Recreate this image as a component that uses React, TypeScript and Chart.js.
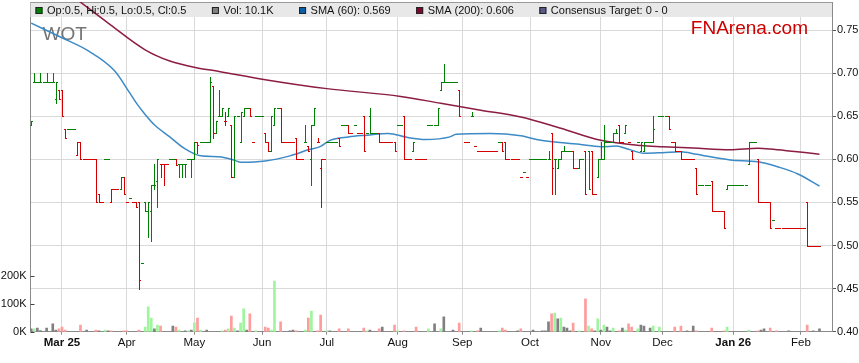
import React, { useEffect, useRef } from "react";
import { Chart, registerables } from "chart.js";

Chart.register(...registerables);

const FONT = '"Liberation Sans", Arial, Helvetica, sans-serif';

// x values are weekday indexes: day 0 = Mon 17 Feb 2025
const monthTickDays = [10, 31, 53, 75, 96, 119, 140, 162, 185, 205, 228, 250];
const monthTickLabels = ["Mar 25", "Apr", "May", "Jun", "Jul", "Aug", "Sep", "Oct", "Nov", "Dec", "Jan 26", "Feb"];
const yearTickLabels = ["Mar 25", "Jan 26"];
const priceTicks = [0.4, 0.45, 0.5, 0.55, 0.6, 0.65, 0.7, 0.75];
const volumeTicks = [0, 100000, 200000];

// [day, open, high, low, close]  or  [day, price] for a day traded at one price
const ohlcRows: number[][] = [
  [0, 0.64, 0.645, 0.64, 0.645], [1, 0.69, 0.70, 0.69, 0.69], [2, 0.69], [3, 0.69, 0.70, 0.69, 0.69], [4, 0.69],
  [5, 0.69, 0.70, 0.69, 0.69], [6, 0.69], [7, 0.69, 0.70, 0.69, 0.69], [8, 0.67, 0.69, 0.665, 0.69],
  [9, 0.68, 0.68, 0.67, 0.67], [10, 0.68, 0.68, 0.65, 0.65], [11, 0.635, 0.635, 0.625, 0.625],
  [12, 0.635], [13, 0.635], [14, 0.635], [15, 0.605, 0.62, 0.605, 0.62], [16, 0.62, 0.62, 0.60, 0.60],
  [17, 0.60], [18, 0.60], [19, 0.60], [20, 0.60], [21, 0.60, 0.60, 0.55, 0.55], [22, 0.56, 0.56, 0.55, 0.55],
  [23, 0.55], [24, 0.60], [25, 0.60], [26, 0.55, 0.565, 0.55, 0.565], [27, 0.565], [28, 0.565],
  [29, 0.565, 0.58, 0.565, 0.58], [30, 0.58, 0.58, 0.56, 0.56], [31, 0.55], [32, 0.555], [33, 0.55],
  [34, 0.55, 0.55, 0.545, 0.545], [35, 0.55, 0.55, 0.45, 0.46], [36, 0.48], [37, 0.55, 0.55, 0.54, 0.54],
  [38, 0.54, 0.55, 0.51, 0.55], [39, 0.54, 0.57, 0.505, 0.57], [40, 0.57, 0.595, 0.565, 0.57],
  [41, 0.575, 0.60, 0.545, 0.60], [42, 0.595, 0.595, 0.58, 0.595], [43, 0.595, 0.595, 0.57, 0.595],
  [44, 0.595], [45, 0.60], [46, 0.60], [47, 0.60, 0.60, 0.593, 0.593], [48, 0.595, 0.595, 0.58, 0.595],
  [49, 0.595, 0.595, 0.58, 0.595], [50, 0.595, 0.595, 0.58, 0.595], [51, 0.60], [52, 0.60, 0.60, 0.58, 0.60],
  [53, 0.60, 0.62, 0.60, 0.62], [54, 0.62, 0.62, 0.607, 0.617], [55, 0.62], [56, 0.62], [57, 0.62],
  [58, 0.62, 0.695, 0.62, 0.69], [59, 0.685, 0.685, 0.625, 0.63], [60, 0.63, 0.645, 0.63, 0.645],
  [61, 0.65, 0.68, 0.65, 0.65], [62, 0.65, 0.66, 0.65, 0.66], [63, 0.645, 0.655, 0.64, 0.645],
  [64, 0.65, 0.66, 0.65, 0.66], [65, 0.64, 0.64, 0.58, 0.58], [66, 0.58, 0.65, 0.58, 0.65], [67, 0.65],
  [68, 0.62, 0.655, 0.62, 0.655], [69, 0.65, 0.66, 0.65, 0.66], [70, 0.66], [71, 0.66, 0.66, 0.65, 0.65],
  [72, 0.62], [73, 0.65], [74, 0.65], [75, 0.65], [76, 0.63, 0.63, 0.62, 0.62], [77, 0.62, 0.62, 0.61, 0.61],
  [78, 0.61, 0.65, 0.61, 0.65], [79, 0.64, 0.66, 0.64, 0.66], [80, 0.66], [81, 0.66, 0.66, 0.62, 0.62],
  [82, 0.62], [83, 0.62], [84, 0.62], [85, 0.62], [86, 0.625, 0.625, 0.60, 0.60], [87, 0.60], [88, 0.60],
  [89, 0.62, 0.64, 0.62, 0.62], [90, 0.615, 0.615, 0.61, 0.61], [91, 0.60, 0.64, 0.57, 0.64],
  [92, 0.64, 0.66, 0.64, 0.66], [93, 0.62, 0.625, 0.62, 0.62], [94, 0.59, 0.60, 0.545, 0.60], [95, 0.60],
  [96, 0.62], [97, 0.62], [98, 0.62], [99, 0.62], [100, 0.625, 0.625, 0.615, 0.615], [101, 0.64], [102, 0.64],
  [103, 0.64, 0.64, 0.63, 0.63], [104, 0.63], [105, 0.64], [106, 0.63], [107, 0.63],
  [108, 0.65, 0.65, 0.61, 0.61], [109, 0.63], [110, 0.65, 0.66, 0.63, 0.63], [111, 0.63], [112, 0.63],
  [113, 0.63, 0.63, 0.62, 0.62], [114, 0.62], [115, 0.62], [116, 0.62], [117, 0.62],
  [118, 0.62, 0.62, 0.61, 0.61], [119, 0.64], [120, 0.64], [121, 0.65, 0.65, 0.60, 0.60], [122, 0.60],
  [123, 0.60], [124, 0.61, 0.62, 0.61, 0.62], [125, 0.60], [126, 0.60], [127, 0.60], [128, 0.60],
  [129, 0.64], [130, 0.64], [131, 0.64], [132, 0.64, 0.66, 0.64, 0.66], [133, 0.68, 0.69, 0.68, 0.69],
  [134, 0.69, 0.71, 0.69, 0.69], [135, 0.69], [136, 0.69], [137, 0.69], [138, 0.69],
  [139, 0.68, 0.68, 0.65, 0.65], [141, 0.62], [142, 0.62], [143, 0.65, 0.655, 0.65, 0.65], [144, 0.615],
  [145, 0.61], [146, 0.61], [147, 0.61], [148, 0.61], [149, 0.61], [150, 0.61], [151, 0.61], [152, 0.62],
  [153, 0.62, 0.62, 0.61, 0.61], [154, 0.62, 0.62, 0.60, 0.60], [155, 0.60], [156, 0.60], [157, 0.60],
  [158, 0.60], [159, 0.58], [160, 0.585], [161, 0.58], [162, 0.60], [163, 0.60], [164, 0.60], [165, 0.60],
  [166, 0.60], [167, 0.60], [168, 0.60, 0.61, 0.60, 0.60], [169, 0.63, 0.63, 0.56, 0.59],
  [170, 0.60, 0.60, 0.56, 0.60], [171, 0.59, 0.60, 0.59, 0.60], [172, 0.60, 0.61, 0.60, 0.61],
  [173, 0.61, 0.615, 0.61, 0.61], [174, 0.61], [175, 0.61], [176, 0.61, 0.61, 0.59, 0.59], [177, 0.59],
  [178, 0.59, 0.60, 0.59, 0.60], [179, 0.60], [180, 0.61, 0.61, 0.56, 0.56], [181, 0.61, 0.61, 0.565, 0.565],
  [182, 0.61, 0.61, 0.56, 0.56], [183, 0.56], [184, 0.58, 0.60, 0.58, 0.60], [185, 0.60, 0.62, 0.60, 0.60],
  [186, 0.60, 0.64, 0.60, 0.62], [187, 0.62], [188, 0.62], [189, 0.62, 0.63, 0.62, 0.63],
  [190, 0.63, 0.635, 0.63, 0.63], [191, 0.64, 0.64, 0.62, 0.62], [192, 0.62], [193, 0.63, 0.64, 0.63, 0.64],
  [194, 0.62], [195, 0.61, 0.61, 0.60, 0.60], [197, 0.62], [198, 0.61, 0.62, 0.61, 0.62],
  [199, 0.61, 0.62, 0.61, 0.62], [200, 0.62], [201, 0.62], [202, 0.62, 0.65, 0.62, 0.635], [204, 0.65],
  [205, 0.65], [206, 0.65], [207, 0.65, 0.65, 0.635, 0.635], [208, 0.62], [209, 0.62, 0.62, 0.61, 0.61],
  [210, 0.61], [211, 0.61, 0.61, 0.60, 0.60], [212, 0.60], [213, 0.60], [214, 0.60], [215, 0.60],
  [216, 0.59, 0.59, 0.56, 0.56], [217, 0.57], [218, 0.57], [219, 0.57], [220, 0.57],
  [221, 0.575, 0.575, 0.54, 0.54], [222, 0.54], [223, 0.54], [224, 0.54], [225, 0.54, 0.54, 0.52, 0.52],
  [226, 0.565, 0.57, 0.565, 0.57], [227, 0.57], [228, 0.57], [229, 0.57], [230, 0.57], [231, 0.57],
  [232, 0.57], [233, 0.595, 0.62, 0.595, 0.62], [234, 0.62], [235, 0.62], [236, 0.60, 0.60, 0.55, 0.55],
  [237, 0.55], [238, 0.55], [239, 0.55], [240, 0.55, 0.55, 0.52, 0.52], [241, 0.53], [242, 0.52],
  [243, 0.52], [244, 0.52], [245, 0.52], [246, 0.52], [247, 0.52], [248, 0.52], [249, 0.52], [250, 0.52],
  [251, 0.52], [252, 0.55, 0.55, 0.50, 0.50], [253, 0.50], [254, 0.50], [255, 0.50], [256, 0.50],
];

// [day, volume in thousands]
const volumeRows: number[][] = [
  [0, 10], [1, 10], [2, 13], [3, 4], [5, 13], [7, 28], [8, 6], [9, 10], [10, 17], [11, 6], [16, 24], [18, 6],
  [21, 6], [22, 3], [24, 6], [25, 3], [26, 3], [30, 3], [31, 3], [35, 6], [37, 17], [38, 89], [39, 49],
  [40, 10], [41, 24], [42, 20], [46, 20], [47, 17], [48, 6], [50, 3], [51, 3], [52, 6], [53, 32], [54, 49],
  [55, 6], [57, 6], [62, 3], [63, 6], [64, 10], [65, 56], [66, 13], [67, 3], [68, 31], [69, 82], [70, 6],
  [71, 64], [73, 3], [76, 17], [77, 13], [78, 6], [79, 182], [81, 35], [84, 3], [85, 6], [86, 3], [89, 6],
  [90, 49], [91, 74], [93, 3], [94, 60], [96, 3], [97, 3], [100, 10], [103, 10], [108, 13], [109, 3],
  [110, 6], [113, 10], [114, 17], [118, 24], [119, 3], [121, 3], [125, 17], [129, 10], [131, 28], [133, 10],
  [134, 53], [137, 6], [139, 31], [143, 3], [145, 3], [146, 13], [152, 3], [153, 13], [154, 6], [158, 3],
  [159, 10], [163, 6], [166, 3], [167, 3], [168, 35], [169, 64], [170, 67], [171, 46], [172, 49], [173, 17],
  [174, 13], [175, 3], [176, 31], [178, 3], [180, 118], [181, 20], [182, 10], [183, 3], [184, 46], [185, 6],
  [186, 24], [187, 17], [188, 3], [189, 13], [191, 3], [192, 13], [193, 6], [194, 28], [195, 17], [197, 10],
  [198, 24], [199, 20], [201, 13], [202, 20], [204, 17], [209, 17], [211, 20], [213, 3], [215, 20], [216, 3],
  [221, 13], [225, 3], [226, 17], [233, 6], [236, 3], [237, 6], [238, 10], [240, 13], [242, 3], [246, 3],
  [252, 24], [254, 3], [256, 10],
];

// [day, value]
const sma60Points: number[][] = [
  [0, 0.758], [10, 0.741], [18, 0.727], [27, 0.703], [32, 0.677], [34, 0.666], [37, 0.652], [40, 0.64],
  [45, 0.626], [50, 0.612], [55, 0.604], [61, 0.603], [66, 0.599], [68, 0.5965], [76, 0.598], [84, 0.604],
  [90, 0.611], [94, 0.615], [97, 0.622], [103, 0.626], [109, 0.628], [116, 0.63], [122, 0.6255],
  [128, 0.623], [136, 0.626], [138, 0.629], [149, 0.63], [159, 0.6274], [165, 0.6224], [178, 0.6174],
  [185, 0.6146], [190, 0.6154], [194, 0.6116], [199, 0.607], [205, 0.6077], [211, 0.6088], [216, 0.6058],
  [227, 0.5992], [236, 0.5972], [243, 0.5907], [249, 0.583], [256, 0.569],
];
const sma200Points: number[][] = [
  [0, 0.824], [15, 0.785], [25, 0.758], [37, 0.727], [45, 0.714], [54, 0.706], [61, 0.702], [75, 0.693],
  [96, 0.682], [120, 0.673], [133, 0.665], [146, 0.657], [159, 0.649], [172, 0.636], [185, 0.622],
  [198, 0.616], [205, 0.6146], [215, 0.613], [227, 0.611], [236, 0.6128], [240, 0.612], [248, 0.609],
  [256, 0.606],
];

const legendEntries = [
  { text: "Op:0.5, Hi:0.5, Lo:0.5, Cl:0.5", color: "#008000" },
  { text: "Vol: 10.1K", color: "#808080" },
  { text: "SMA (60): 0.569", color: "#0a5fa8" },
  { text: "SMA (200): 0.606", color: "#7d0a2e" },
  { text: "Consensus Target: 0 - 0", color: "#5a5a86" },
];
const tickerLabel = "WOT";
const brandLabel = "FNArena.com";

const UP = "#008000";
const DOWN = "#d40000";
const VOL_UP = "#9ef59e";
const VOL_DOWN = "#ff9c9c";
const VOL_FLAT = "#808080";
const BLUE = "#3c8ac6";
const MAROON = "#8c1c44";

type Bar = { day: number; o: number; h: number; l: number; c: number; up: boolean; move: number };

function buildBars(): Bar[] {
  const bars: Bar[] = [];
  let prevClose: number | null = null;
  let prevUp = true;
  for (const r of ohlcRows) {
    const [day, o, h = o, l = o, c = o] = r;
    let up = prevUp;
    let move = 0;
    if (prevClose === null) {
      up = c >= o;
    } else if (c > prevClose + 1e-9) {
      up = true;
      move = 1;
    } else if (c < prevClose - 1e-9) {
      up = false;
      move = -1;
    }
    bars.push({ day, o, h, l, c, up, move });
    prevClose = c;
    prevUp = up;
  }
  return bars;
}

const noPad = (s: any) => {
  s.paddingTop = 0;
  s.paddingBottom = 0;
  s.paddingLeft = 0;
  s.paddingRight = 0;
};

export default function App() {
  const ref = useRef<HTMLCanvasElement | null>(null);

  useEffect(() => {
    document.body.style.margin = "0";
    const canvas = ref.current;
    if (!canvas) return;
    const bars = buildBars();
    const moveByDay = new Map<number, number>();
    bars.forEach((b) => moveByDay.set(b.day, b.move));

    const volData = volumeRows.map(([d, v]) => ({ x: d, y: v * 1000 }));
    const volColors = volumeRows.map(([d]) => {
      const m = moveByDay.get(d) ?? 0;
      return m > 0 ? VOL_UP : m < 0 ? VOL_DOWN : VOL_FLAT;
    });

    const framePlugin = {
      id: "frame",
      beforeDatasetsDraw(chart: any) {
        const { ctx, chartArea } = chart;
        const { left, right, top } = chartArea;
        ctx.save();
        ctx.fillStyle = "#e8e8e8";
        ctx.fillRect(left, top, right - left, 15);
        ctx.strokeStyle = "#9a9a9a";
        ctx.lineWidth = 1;
        ctx.beginPath();
        ctx.moveTo(left, Math.round(top) + 0.5);
        ctx.lineTo(right, Math.round(top) + 0.5);
        ctx.stroke();
        ctx.font = `19px ${FONT}`;
        ctx.textBaseline = "alphabetic";
        ctx.fillStyle = "#757575";
        ctx.textAlign = "left";
        ctx.fillText(tickerLabel, left + 12, 39.5);
        ctx.fillStyle = "#cc0000";
        ctx.textAlign = "right";
        ctx.fillText(brandLabel, 808, 33.5);
        ctx.restore();
      },
      afterDatasetsDraw(chart: any) {
        const { ctx, chartArea, scales } = chart;
        const xs = scales.x;
        const ys = scales.yPrice;
        ctx.save();
        ctx.beginPath();
        ctx.rect(chartArea.left, chartArea.top, chartArea.right - chartArea.left, chartArea.bottom - chartArea.top);
        ctx.clip();
        ctx.lineWidth = 1;
        const py = (v: number) => Math.round(ys.getPixelForValue(v)) + 0.5;
        for (const b of bars) {
          const x = Math.round(xs.getPixelForValue(b.day)) + 0.5;
          const yo = py(b.o), yh = py(b.h), yl = py(b.l), yc = py(b.c);
          ctx.strokeStyle = b.up ? UP : DOWN;
          ctx.beginPath();
          if (yl > yh) {
            ctx.moveTo(x, yh - 0.5);
            ctx.lineTo(x, yl + 0.5);
          }
          ctx.moveTo(x - 1.5, yo);
          ctx.lineTo(x + 0.5, yo);
          ctx.moveTo(x - 0.5, yc);
          ctx.lineTo(x + 1.5, yc);
          ctx.stroke();
        }
        ctx.restore();

        // legend row
        ctx.save();
        ctx.font = `11px ${FONT}`;
        ctx.textBaseline = "middle";
        ctx.textAlign = "left";
        let lx = chartArea.left + 5;
        const ly = chartArea.top + 8.5;
        for (const e of legendEntries) {
          ctx.fillStyle = e.color;
          ctx.fillRect(lx, ly - 3.5, 7, 7);
          ctx.strokeStyle = "#222";
          ctx.lineWidth = 1;
          ctx.strokeRect(lx + 0.5, ly - 3, 6, 6);
          ctx.fillStyle = "#111";
          ctx.fillText(e.text, lx + 11.5, ly + 0.5);
          lx += 11.5 + ctx.measureText(e.text).width + 25.5;
        }
        ctx.restore();
      },
      afterDraw(chart: any) {
        const { ctx, scales } = chart;
        const yv = scales.yVol;
        ctx.save();
        ctx.strokeStyle = "#444";
        ctx.lineWidth = 1;
        ctx.beginPath();
        for (const v of volumeTicks) {
          const y = Math.round(yv.getPixelForValue(v)) + 0.5;
          ctx.moveTo(yv.right, y);
          ctx.lineTo(yv.right + 4, y);
        }
        ctx.stroke();
        ctx.restore();
      },
    };

    const chart = new Chart(canvas, {
      type: "bar",
      data: {
        datasets: [
          {
            type: "line",
            label: "SMA (200)",
            data: sma200Points.map(([x, y]) => ({ x, y })),
            yAxisID: "yPrice",
            borderColor: MAROON,
            borderWidth: 1.5,
            pointRadius: 0,
            cubicInterpolationMode: "monotone",
            order: 1,
          } as any,
          {
            type: "line",
            label: "SMA (60)",
            data: sma60Points.map(([x, y]) => ({ x, y })),
            yAxisID: "yPrice",
            borderColor: BLUE,
            borderWidth: 1.5,
            pointRadius: 0,
            cubicInterpolationMode: "monotone",
            order: 2,
          } as any,
          {
            type: "bar",
            label: "Vol",
            data: volData,
            yAxisID: "yVol",
            backgroundColor: volColors,
            barThickness: 2,
            order: 3,
          } as any,
        ],
      },
      options: {
        animation: false,
        responsive: false,
        maintainAspectRatio: false,
        layout: { padding: { top: 2, left: 0, right: 0, bottom: 0 } },
        plugins: { legend: { display: false }, tooltip: { enabled: false } },
        scales: {
          x: {
            type: "linear",
            min: -0.23,
            max: 260.07,
            offset: false,
            afterBuildTicks: (s: any) => {
              s.ticks = monthTickDays.map((v) => ({ value: v }));
            },
            afterFit: (s: any) => {
              s.height = 31.3;
              noPad(s);
            },
            ticks: {
              autoSkip: false,
              maxRotation: 0,
              minRotation: 0,
              padding: 1,
              color: "#111",
              callback: (v: any) => {
                const i = monthTickDays.indexOf(Number(v));
                return i >= 0 ? monthTickLabels[i] : "";
              },
              font: (ctx: any) => {
                const i = monthTickDays.indexOf(ctx.tick ? ctx.tick.value : -1);
                const bold = i >= 0 && yearTickLabels.includes(monthTickLabels[i]);
                return { family: FONT, size: 11.5, weight: bold ? "bold" : "normal" };
              },
            },
            grid: { color: "#d9d9d9", offset: false, tickLength: 3, tickColor: "#888" },
            border: { color: "#8a8a8a" },
          },
          yPrice: {
            type: "linear",
            position: "right",
            min: 0.4,
            max: 0.7825,
            afterBuildTicks: (s: any) => {
              s.ticks = priceTicks.map((v) => ({ value: v }));
            },
            afterFit: (s: any) => {
              s.width = 27;
              noPad(s);
            },
            ticks: {
              padding: 1,
              color: "#111",
              font: { family: FONT, size: 11 },
              callback: (v: any) => Number(v).toFixed(2),
            },
            grid: { color: "#d9d9d9", tickLength: 4, tickColor: "#555" },
            border: { color: "#8a8a8a" },
          },
          yVol: {
            type: "linear",
            position: "left",
            min: 0,
            max: 1184000,
            afterBuildTicks: (s: any) => {
              s.ticks = volumeTicks.map((v) => ({ value: v }));
            },
            afterFit: (s: any) => {
              s.width = 30.5;
              noPad(s);
            },
            ticks: {
              padding: 4,
              color: "#111",
              font: { family: FONT, size: 11 },
              callback: (v: any) => `${Math.round(Number(v) / 1000)}K`,
            },
            grid: { display: false, drawOnChartArea: false, drawTicks: false },
            border: { display: true, color: "#8a8a8a" },
          },
        },
      } as any,
      plugins: [framePlugin],
    });

    return () => chart.destroy();
  }, []);

  return (
    <div style={{ width: 859, height: 363 }}>
      <canvas ref={ref} width={859} height={363} style={{ display: "block", width: 859, height: 363 }} />
    </div>
  );
}
